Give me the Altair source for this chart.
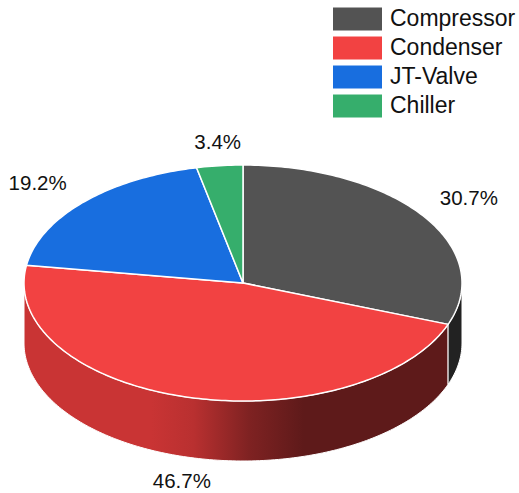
import math
import altair as alt

# Stage shares of the total, in percent, clockwise from twelve o'clock
stages = ["Compressor", "Condenser", "JT-Valve", "Chiller"]
shares = [30.7, 46.7, 19.2, 3.4]
top_colors = ["#535353", "#F24242", "#186EDF", "#36AE6C"]

WIDTH, HEIGHT = 519, 493
RADIUS = 219          # projection scale: pixels per pie radius
CENTER = (243, 283)   # pie centre on the page
TILT = 118 / 219      # vertical squash of the disc
DEPTH = 60 / 219      # height of the rim, in pie radii
LABEL_RADIUS = 1.255
LABEL_NUDGE = [(0, 0), (8, -4), (-5, 2), (4, 7)]  # page pixels, right and down


def rim_point(deg, drop=0.0):
    a = math.radians(deg)
    return [math.sin(a), math.cos(a) * TILT - drop]


def arc(start, end, drop=0.0):
    n = max(2, int(abs(end - start)))
    return [rim_point(start + (end - start) * i / n, drop) for i in range(n + 1)]


def feature(name, ring):
    return {
        "type": "Feature",
        "properties": {"stage": name},
        "geometry": {"type": "Polygon", "coordinates": [ring + [ring[0]]]},
    }


bounds = []
running = 0.0
for share in shares:
    bounds.append((running * 3.6, (running + share) * 3.6))
    running += share

disc = [
    feature(name, [[0.0, 0.0]] + arc(a, b))
    for name, (a, b) in zip(stages, bounds)
]


def wall(index):
    # Only the part of a slice facing the viewer (90 to 270 degrees) shows a rim
    a = max(bounds[index][0], 90)
    b = min(bounds[index][1], 270)
    ring = arc(a, b) + arc(b, a, DEPTH)
    return feature(stages[index], ring)


projection = dict(
    type="identity",
    reflectY=True,
    scale=RADIUS,
    translate=list(CENTER),
)

condenser_wall = (
    alt.Chart(alt.Data(values=[wall(1)]))
    .mark_geoshape(
        stroke="#ffffff",
        strokeWidth=1,
        fill=alt.Gradient(
            gradient="linear",
            x1=0, x2=1, y1=0, y2=0,
            stops=[
                alt.GradientStop(color="#C93434", offset=0.0),
                alt.GradientStop(color="#C93434", offset=0.30),
                alt.GradientStop(color="#B93030", offset=0.40),
                alt.GradientStop(color="#7F2222", offset=0.53),
                alt.GradientStop(color="#5E1A1A", offset=0.66),
                alt.GradientStop(color="#5E1A1A", offset=1.0),
            ],
        ),
    )
    .project(**projection)
)

compressor_wall = (
    alt.Chart(alt.Data(values=[wall(0)]))
    .mark_geoshape(fill="#222222", stroke="#ffffff", strokeWidth=1)
    .project(**projection)
)

top = (
    alt.Chart(alt.Data(values=disc))
    .mark_geoshape(stroke="#ffffff", strokeWidth=1.5, strokeJoin="round")
    .encode(
        color=alt.Color(
            "properties.stage:N",
            scale=alt.Scale(domain=stages, range=top_colors),
            sort=stages,
            legend=alt.Legend(
                title=None,
                orient="none",
                legendX=332,
                legendY=7,
                symbolType="M-1,-0.48H1V0.48H-1Z",
                symbolSize=2500,
                symbolStrokeColor="#ffffff",
                symbolStrokeWidth=1,
                symbolOpacity=1,
                clipHeight=24,
                rowPadding=5,
                labelFont="Liberation Sans",
                labelFontSize=23,
                labelColor="#111111",
                labelOffset=7,
                labelLimit=200,
                padding=0,
            ),
        )
    )
    .project(**projection)
)

label_rows = []
for i, (name, share) in enumerate(zip(stages, shares)):
    mid = (bounds[i][0] + bounds[i][1]) / 2
    a = math.radians(mid)
    drop = DEPTH if 90 < mid < 270 else 0.0
    dx, dy = LABEL_NUDGE[i]
    label_rows.append(
        {
            "lon": LABEL_RADIUS * math.sin(a) + dx / RADIUS,
            "lat": LABEL_RADIUS * math.cos(a) * TILT - drop - dy / RADIUS,
            "text": f"{share:.1f}%",
        }
    )

labels = (
    alt.Chart(alt.Data(values=label_rows))
    .mark_text(font="Liberation Sans", fontSize=20.5, color="#111111")
    .encode(longitude="lon:Q", latitude="lat:Q", text="text:N")
    .project(**projection)
)

chart = (
    alt.layer(condenser_wall, compressor_wall, top, labels)
    .properties(
        width=WIDTH,
        height=HEIGHT,
        padding=0,
        autosize=alt.AutoSizeParams(type="none"),
    )
    .configure_view(stroke=None)
)

chart.save("out.html", embed_options={"renderer": "svg", "actions": False})
